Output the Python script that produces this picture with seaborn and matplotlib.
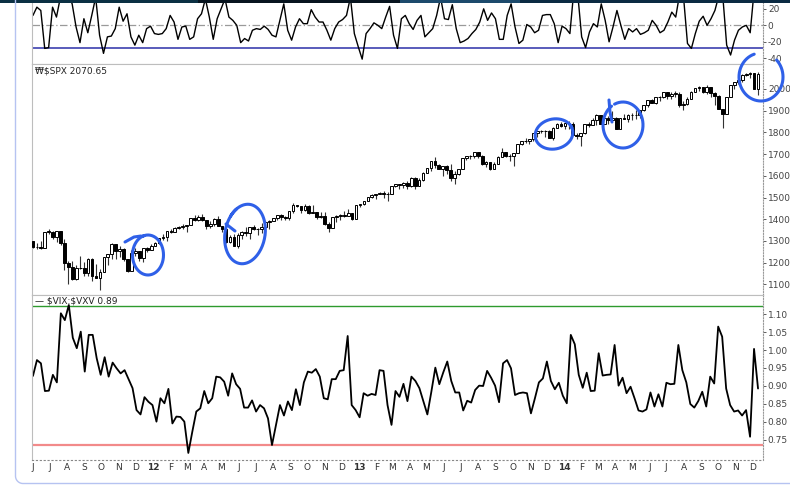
import numpy as np
import pandas as pd
import seaborn as sns
import matplotlib.pyplot as plt
from matplotlib.patches import Rectangle
from matplotlib.ticker import FormatStrFormatter

sns.set_theme(style="white")
plt.rcParams['font.family'] = ['DejaVu Sans']
plt.rcParams['axes.unicode_minus'] = False

# weekly $SPX candles, week ending 2011-06-10 .. 2014-12-19
spx_open = [1300, 1271, 1272, 1268, 1340, 1343, 1316, 1345, 1292, 1199, 1179, 1124, 1177, 1174, 1154, 1216, 1136, 1131, 1158, 1225,
            1238, 1285, 1253, 1264, 1216, 1159, 1245, 1255, 1220, 1265,
            1258, 1278, 1289, 1315, 1316, 1345, 1343, 1361, 1366, 1370, 1371, 1404, 1397, 1408, 1398, 1370, 1379, 1403, 1369, 1353,
            1295, 1318, 1278, 1326, 1343, 1335, 1362, 1355, 1357, 1363, 1386, 1391, 1406, 1418, 1411, 1407, 1438, 1466, 1460, 1441,
            1461, 1429, 1433, 1412, 1414, 1380, 1360, 1409, 1416, 1418, 1414, 1430,
            1402, 1466, 1472, 1486, 1503, 1513, 1518, 1520, 1516, 1518, 1551, 1561, 1557, 1569, 1553, 1589, 1555, 1582, 1614, 1634,
            1667, 1650, 1631, 1643, 1627, 1592, 1606, 1632, 1680, 1692, 1692, 1710, 1691, 1656, 1664, 1633, 1655, 1688, 1710, 1692,
            1690, 1703, 1745, 1760, 1762, 1771, 1798, 1805, 1806, 1805, 1775, 1818,
            1841, 1831, 1842, 1839, 1790, 1783, 1797, 1839, 1836, 1859, 1878, 1841, 1867, 1858, 1865, 1816, 1865, 1863, 1881, 1878,
            1878, 1901, 1924, 1949, 1936, 1963, 1961, 1985, 1968, 1978, 1978, 1925, 1932, 1955, 1988, 2003, 2008, 1986, 2010, 1983,
            1968, 1906, 1887, 1965, 2018, 2032, 2040, 2064, 2068, 2075, 2002]
spx_high = [1301, 1292, 1298, 1341, 1356, 1344, 1347, 1347, 1307, 1208, 1208, 1190, 1230, 1204, 1220, 1222, 1195, 1171, 1224, 1240,
            1292, 1285, 1277, 1265, 1216, 1260, 1267, 1255, 1268, 1270,
            1285, 1297, 1315, 1333, 1345, 1354, 1363, 1368, 1378, 1374, 1405, 1419, 1420, 1422, 1398, 1392, 1406, 1415, 1370, 1354,
            1328, 1334, 1335, 1344, 1364, 1362, 1375, 1358, 1381, 1391, 1395, 1407, 1419, 1426, 1414, 1438, 1474, 1467, 1460, 1471,
            1465, 1464, 1435, 1434, 1433, 1388, 1409, 1421, 1424, 1438, 1448, 1430,
            1467, 1472, 1486, 1503, 1514, 1518, 1525, 1530, 1525, 1552, 1564, 1561, 1570, 1574, 1594, 1593, 1592, 1618, 1636, 1667,
            1687, 1656, 1647, 1648, 1655, 1620, 1632, 1680, 1693, 1698, 1710, 1710, 1696, 1669, 1664, 1664, 1690, 1730, 1710, 1699,
            1703, 1745, 1760, 1775, 1771, 1799, 1806, 1813, 1810, 1809, 1823, 1844,
            1850, 1843, 1851, 1849, 1799, 1798, 1840, 1847, 1867, 1884, 1882, 1883, 1875, 1897, 1872, 1865, 1884, 1884, 1891, 1902,
            1901, 1924, 1950, 1955, 1964, 1968, 1985, 1985, 1984, 1991, 1985, 1945, 1964, 1993, 2006, 2012, 2009, 2020, 2011, 1986,
            1972, 1906, 1965, 2018, 2034, 2041, 2071, 2076, 2079, 2075, 2077]
spx_low = [1268, 1262, 1262, 1267, 1330, 1308, 1295, 1282, 1168, 1101, 1121, 1122, 1170, 1136, 1137, 1114, 1131, 1074, 1158, 1191,
           1215, 1215, 1226, 1209, 1158, 1159, 1231, 1209, 1203, 1248,
           1258, 1275, 1286, 1306, 1300, 1337, 1340, 1355, 1354, 1340, 1371, 1392, 1392, 1393, 1357, 1358, 1370, 1368, 1343, 1292,
           1291, 1277, 1267, 1307, 1324, 1309, 1352, 1325, 1337, 1329, 1354, 1391, 1397, 1398, 1397, 1396, 1429, 1455, 1430, 1438,
           1425, 1428, 1403, 1405, 1373, 1343, 1360, 1385, 1398, 1411, 1414, 1398,
           1402, 1456, 1465, 1482, 1496, 1495, 1515, 1497, 1485, 1514, 1548, 1538, 1546, 1539, 1548, 1537, 1553, 1577, 1613, 1622,
           1635, 1631, 1598, 1608, 1577, 1560, 1605, 1632, 1671, 1676, 1681, 1684, 1652, 1639, 1627, 1633, 1655, 1688, 1688, 1670,
           1646, 1703, 1740, 1752, 1746, 1761, 1780, 1797, 1779, 1772, 1767, 1818,
           1824, 1815, 1817, 1790, 1770, 1738, 1791, 1825, 1834, 1834, 1839, 1839, 1839, 1858, 1814, 1815, 1860, 1850, 1859, 1862,
           1868, 1900, 1915, 1934, 1930, 1944, 1958, 1953, 1952, 1965, 1917, 1904, 1928, 1955, 1986, 1993, 1982, 1979, 1965, 1926,
           1906, 1821, 1887, 1962, 2001, 2025, 2034, 2060, 2049, 2002, 1972]
spx_close = [1271, 1272, 1268, 1340, 1344, 1316, 1345, 1292, 1199, 1179, 1124, 1177, 1174, 1154, 1216, 1136, 1131, 1155, 1225, 1238,
             1285, 1253, 1264, 1216, 1159, 1244, 1255, 1220, 1265, 1258,
             1278, 1289, 1315, 1316, 1345, 1343, 1361, 1366, 1370, 1371, 1404, 1397, 1408, 1398, 1370, 1379, 1403, 1369, 1353, 1295,
             1318, 1278, 1326, 1343, 1335, 1362, 1355, 1357, 1363, 1386, 1391, 1406, 1418, 1411, 1407, 1438, 1466, 1460, 1441, 1461,
             1429, 1433, 1412, 1414, 1380, 1360, 1409, 1416, 1418, 1414, 1430, 1402,
             1466, 1472, 1486, 1503, 1513, 1518, 1520, 1516, 1518, 1551, 1561, 1557, 1569, 1553, 1589, 1555, 1582, 1614, 1634, 1667,
             1650, 1631, 1643, 1627, 1592, 1606, 1632, 1680, 1692, 1692, 1710, 1691, 1656, 1664, 1633, 1655, 1688, 1710, 1692, 1690,
             1703, 1745, 1760, 1762, 1771, 1798, 1805, 1806, 1805, 1775, 1818, 1841,
             1831, 1842, 1839, 1790, 1783, 1797, 1839, 1836, 1859, 1878, 1841, 1867, 1858, 1865, 1816, 1865, 1863, 1881, 1878, 1878,
             1901, 1924, 1949, 1936, 1963, 1961, 1985, 1968, 1978, 1978, 1925, 1932, 1955, 1988, 2003, 2008, 1986, 2010, 1983, 1968,
             1906, 1887, 1965, 2018, 2032, 2040, 2064, 2068, 2075, 2002, 2071]

# $VIX:$VXV weekly ratio
vix_vxv = [0.928, 0.972, 0.963, 0.886, 0.887, 0.931, 0.910, 1.102, 1.083, 1.125,
           1.034, 1.005, 1.051, 0.940, 1.042, 1.042, 0.977, 0.931, 0.980, 0.926,
           0.965, 0.949, 0.935, 0.944, 0.919, 0.894, 0.833, 0.821, 0.869, 0.856,
           0.847, 0.801, 0.866, 0.852, 0.892, 0.796, 0.815, 0.814, 0.801, 0.714,
           0.773, 0.829, 0.838, 0.886, 0.852, 0.866, 0.926, 0.924, 0.912, 0.873,
           0.935, 0.905, 0.892, 0.840, 0.840, 0.860, 0.829, 0.847, 0.838, 0.810,
           0.736,
           0.792, 0.847, 0.818, 0.857, 0.833, 0.891, 0.847, 0.910, 0.940, 0.937,
           0.947, 0.926, 0.866, 0.863, 0.919, 0.919, 0.942, 0.944, 1.039, 0.847,
           0.833, 0.813, 0.880, 0.873, 0.878, 0.875, 0.944, 0.942, 0.847, 0.792,
           0.886, 0.870, 0.906, 0.858, 0.926, 0.914, 0.894, 0.857, 0.821, 0.884,
           0.951, 0.905, 0.938, 0.968, 0.914, 0.882, 0.882, 0.832, 0.859, 0.854,
           0.889, 0.901, 0.900, 0.942, 0.923, 0.901, 0.855, 0.963, 0.972, 0.949,
           0.875,
           0.880, 0.882, 0.880, 0.824, 0.866, 0.910, 0.921, 0.968, 0.914, 0.891,
           0.909, 0.873, 0.852, 1.042, 1.016, 0.931, 0.895, 0.937, 0.886, 0.887,
           0.991, 0.929, 0.931, 0.932, 1.014, 0.901, 0.923, 0.880, 0.898, 0.866,
           0.832, 0.829, 0.835, 0.882, 0.843, 0.877, 0.843, 0.909, 0.905, 0.906,
           1.014, 0.944, 0.910, 0.850, 0.840, 0.858, 0.884, 0.843, 0.926, 0.907,
           1.065, 1.037, 0.893, 0.847, 0.829, 0.832, 0.818, 0.833, 0.759, 1.003,
           0.893]

# oscillator in the (cropped) top panel
osc = [12, 22, 18, -28, -27, 22, 10, 34, 46, 38, 26, -2, -21, 8, -9, 12, 34, -12, -34, -14,
       -13, -4, 22, 5, 14, -14, -24, -12, -21, -4, -1, -10, -11, -10, -4, 12, 4, -17, -2, -1,
       -17, -14, 8, 14, 32, 10, -17, 8, 20, 32, 10, 6, 0, -21, -16, -19, -6, -4, -5, -1,
       -5, -12, -14,
       6, 26, -6, -18, -2, 8, 2, 2, 19, 10, 4, 4, -6, -18, -4, 4, 7, 12, 34, -10,
       -26, -41, -10, -4, 3, 0, -4, 10, 23, -12, -28, 8, 12, 2, -5, 6, 12, -14, -9, -4,
       12, 34, 8, 7, 25, -4, -21, -19, -16, -10, -5, 4, 20, 6, 15, 8, -17, -17, 12, 26,
       -2, -22,
       -18, 1, -2, -9, -6, 12, 13, 13, 2, -21, -1, -4, -10, 42, 38, -14, -27, -8, 2, -2,
       26, 6, -20, -2, 18, 0, -17, -4, -8, -4, -11, -9, -6, 6, 0, -9, -6, 4, 16, 10,
       38, 34, -22, -28, -10, 5, 11, 0, 8, 18, 36, 36, -24, -36, -18, -6, -2, 0, -9, 42,
       46]

osc_ticks = [-40, -20, 0, 20]
spx_ticks = [1100, 1200, 1300, 1400, 1500, 1600, 1700, 1800, 1900, 2000]
ratio_ticks = [0.75, 0.80, 0.85, 0.90, 0.95, 1.00, 1.05, 1.10]

spx = pd.DataFrame({"date": pd.date_range("2011-06-10", periods=len(spx_close), freq="W-FRI"),
                    "open": spx_open, "high": spx_high, "low": spx_low, "close": spx_close})
ratio = pd.DataFrame({"date": pd.date_range("2011-06-10", "2014-12-19", periods=len(vix_vxv)),
                      "ratio": vix_vxv})
osc_df = pd.DataFrame({"date": pd.date_range("2011-06-10", "2014-12-19", periods=len(osc)),
                       "osc": osc})

W_PX, H_PX = 790, 486
fig = plt.figure(figsize=(W_PX / 100, H_PX / 100), dpi=100)
fig.patch.set_facecolor("white")
x0, x1 = 32.3, 763


def band(top, bottom):
    return [x0 / W_PX, 1 - bottom / H_PX, (x1 - x0) / W_PX, (bottom - top) / H_PX]


ax_top = fig.add_axes(band(0, 64.5))
ax_mid = fig.add_axes(band(64.5, 295), sharex=ax_top)
ax_bot = fig.add_axes(band(295, 459.5), sharex=ax_top)

# top oscillator
sns.lineplot(data=osc_df, x="date", y="osc", ax=ax_top, color="black", lw=1.0)
ax_top.axhline(0, color="#9a9a9a", lw=0.9, ls=(0, (6, 2, 1, 2)), zorder=0)
ax_top.axhline(-27, color="#2b2fa8", lw=1.1, zorder=0)
ax_top.set_ylim(-47.5, 30.7)
ax_top.set_yticks(osc_ticks)

# candles
up = spx["close"] >= spx["open"]
body_lo = spx[["open", "close"]].min(axis=1)
body_h = (spx["close"] - spx["open"]).abs().clip(lower=1.5)
ax_mid.vlines(spx["date"], spx["low"], spx["high"], color="#333333", lw=0.8, zorder=2)
ax_mid.bar(spx["date"][up], body_h[up], bottom=body_lo[up], width=4.8,
           facecolor="white", edgecolor="black", lw=0.7, zorder=3)
ax_mid.bar(spx["date"][~up], body_h[~up], bottom=body_lo[~up], width=4.8,
           facecolor="black", edgecolor="black", lw=0.7, zorder=3)
ax_mid.set_ylim(1050.7, 2112.9)
ax_mid.set_yticks(spx_ticks)
ax_mid.text(0.004, 0.973, "\u20a9$SPX 2070.65", transform=ax_mid.transAxes, fontsize=6.5,
            color="#222222", va="center", ha="left", parse_math=False)

# ratio
sns.lineplot(data=ratio, x="date", y="ratio", ax=ax_bot, color="black", lw=1.3)
ax_bot.axhline(1.122, color="#2e9a2e", lw=1.0, zorder=0)
ax_bot.axhline(0.737, color="#f28a8a", lw=1.6, zorder=0)
ax_bot.set_ylim(0.6958, 1.1528)
ax_bot.set_yticks(ratio_ticks)
ax_bot.yaxis.set_major_formatter(FormatStrFormatter("%.2f"))
ax_bot.text(0.004, 0.9635, "\u2014 $VIX:$VXV 0.89", transform=ax_bot.transAxes, fontsize=6.5,
            color="#222222", va="center", ha="left", parse_math=False)

# month axis
months = pd.date_range("2011-06-01", "2014-12-01", freq="MS")
ax_bot.set_xticks(months + pd.Timedelta(days=8))
ax_bot.set_xticklabels([f"{m:%y}" if m.month == 1 else f"{m:%b}"[0] for m in months])
for lab, m in zip(ax_bot.get_xticklabels(), months):
    if m.month == 1:
        lab.set_fontweight("bold")
ax_bot.set_xlim(pd.Timestamp("2011-06-08 20:00"), pd.Timestamp("2014-12-27 20:00"))

for ax in (ax_top, ax_mid, ax_bot):
    ax.set_xlabel("")
    ax.set_ylabel("")
    ax.set_facecolor("white")
    ax.yaxis.tick_right()
    ax.tick_params(axis="y", length=2, width=0.6, pad=1.5, labelsize=6.5,
                   colors="#444444", direction="out", right=True, left=False)
    for s in ax.spines.values():
        s.set_color("#bdbdbd")
        s.set_linewidth(0.8)
    ax.spines["right"].set_linestyle((0, (1, 1.5)))
    ax.spines["right"].set_color("#999999")
ax_top.tick_params(axis="x", labelbottom=False, length=0)
ax_mid.tick_params(axis="x", labelbottom=False, length=0)
ax_bot.tick_params(axis="x", length=0, pad=2.5, labelsize=6.5, colors="#333333")
ax_bot.spines["bottom"].set_linestyle((0, (1, 2.5)))
ax_bot.spines["bottom"].set_color("#888888")
ax_top.spines["top"].set_visible(False)

# overlay: browser strip, frame and hand-drawn circles (pixel space)
ov = fig.add_axes([0, 0, 1, 1], zorder=20)
ov.set_xlim(0, W_PX)
ov.set_ylim(H_PX, 0)
ov.axis("off")
ov.patch.set_alpha(0)
for xa, xb, c in [(0, 198, "#0b3043"), (198, 400, "#07141f"), (400, 520, "#1c4a6c"), (520, 790, "#0b2a42")]:
    ov.add_patch(Rectangle((xa, 0), xb - xa, 3.5, color=c, lw=0))

t = np.radians(np.linspace(180, 270, 20))
ov.plot(np.r_[15.5, 15.5, 23 + 7.5 * np.cos(t), 790],
        np.r_[0, 476, 476 - 7.5 * np.sin(t), 483.5], color="#b6c3f1", lw=1.0)

BLUE = "#2f60e8"


def loop(cx, cy, rx, ry, rot, a0, a1):
    a = np.radians(np.linspace(a0, a1, 160))
    x, y = rx * np.cos(a), -ry * np.sin(a)
    r = np.radians(rot)
    return cx + x * np.cos(r) - y * np.sin(r), cy + x * np.sin(r) + y * np.cos(r)


circles = [
    (148, 255, 15.5, 20, 0, 110, -255),
    (245, 234, 20, 30, 10, 150, -230),
    (554, 134, 19, 15, -12, 10, 380),
    (623, 125, 20, 23, 0, 115, -235),
    (761, 77, 22, 24, 0, 108, 405),
]
for c in circles:
    lx, ly = loop(*c)
    ov.plot(lx, ly, color=BLUE, lw=2.2, solid_capstyle="round")
ov.plot([125, 134, 141], [242, 237, 236], color=BLUE, lw=2.2, solid_capstyle="round")
ov.plot([226, 235], [224, 231], color=BLUE, lw=2.2, solid_capstyle="round")
ov.plot([609, 610, 612], [100, 112, 122], color=BLUE, lw=2.2, solid_capstyle="round")

fig.savefig("out.png", dpi=100)
